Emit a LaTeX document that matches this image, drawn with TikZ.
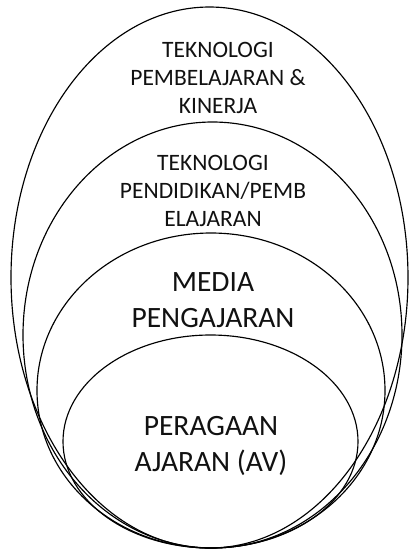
\documentclass[tikz,border=0pt]{standalone}
\usepackage{fontspec}
\setmainfont{Carlito}
\usepackage{xcolor}
\definecolor{ink}{HTML}{111111}
\tikzset{
  ring/.style={draw=black,line width=1.15pt},
  smalltext/.style={font=\fontsize{23.5}{28}\selectfont,text=ink,align=center,inner sep=0pt},
  bigtext/.style={font=\fontsize{29.5}{36}\selectfont,text=ink,align=center,inner sep=0pt},
}
\begin{document}
\begin{tikzpicture}[x=1pt,y=-1pt]
  \useasboundingbox (0,0) rectangle (409,550);
  \draw[ring] (209.5,277.5) ellipse [x radius=198.5pt, y radius=270.5pt];
  \draw[ring] (212.5,335) ellipse [x radius=189.5pt, y radius=213pt];
  \draw[ring] (211,390.5) ellipse [x radius=174pt, y radius=157.5pt];
  \draw[ring] (210.5,441.5) ellipse [x radius=147.5pt, y radius=106.5pt];

  \node[smalltext] (kinerja) at (218,78) {TEKNOLOGI\\PEMBELAJARAN \&\\KINERJA};
  \node[smalltext] (pendidikan) at (213,191) {TEKNOLOGI\\PENDIDIKAN/PEMB\\ELAJARAN};
  \node[bigtext] (media) at (213,300) {MEDIA\\PENGAJARAN};
  \node[bigtext] (peragaan) at (211,446) {PERAGAAN\\AJARAN (AV)};
\end{tikzpicture}
\end{document}
